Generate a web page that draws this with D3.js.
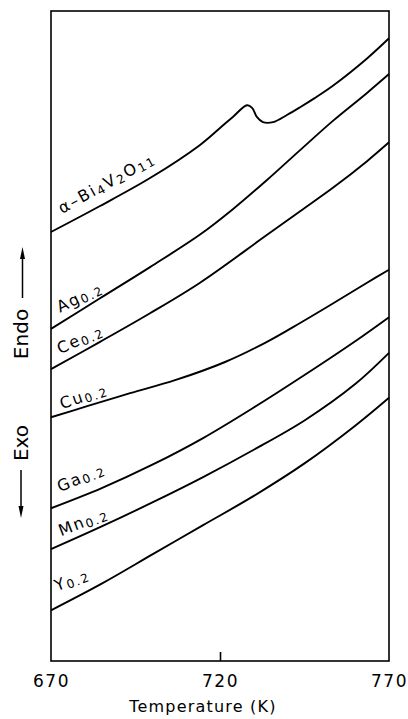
<!DOCTYPE html>
<html>
<head>
<meta charset="utf-8">
<script src="https://cdn.jsdelivr.net/npm/d3@7"></script>
<style>
  html, body { margin: 0; padding: 0; background: #fff; }
  svg { display: block; }
  text { font-family: "DejaVu Sans", sans-serif; fill: #000; }
</style>
</head>
<body>
<div id="chart"></div>
<script>
// ---------------- DATA ----------------
const xTickLabels = [670, 720, 770];
const xTitle = "Temperature (K)";
const yUpLabel = "Endo";
const yDownLabel = "Exo";

// Series: temperature (K) and DTA signal (arbitrary units, offset curves)
const biT = [670, 684.5, 699.3, 714.1, 720, 723.8, 728, 729.5, 730.9, 732.7, 735.7, 739.8, 743.7, 748, 753.4, 763.5, 770];
const biV = [66.0, 70.0, 74.3, 79.4, 82.0, 83.7, 85.5, 85.1, 83.7, 82.9, 82.9, 84.0, 85.2, 86.6, 88.5, 92.7, 95.8];

const agT = [670, 684.5, 699.3, 714.1, 723.8, 733.9, 743.7, 753.4, 763.5, 770];
const agV = [51.1, 55.8, 60.6, 65.6, 69.5, 74.0, 78.6, 83.1, 87.4, 90.3];

const ceT = [670, 684.5, 699.3, 714.1, 732.7, 743.7, 753.4, 763.5, 770];
const ceV = [44.9, 49.1, 53.5, 58.2, 65.1, 69.2, 72.8, 76.9, 79.8];

const cuT = [670, 680.7, 693.4, 706.7, 721.5, 733.9, 743.7, 753.4, 763.5, 770];
const cuV = [37.5, 39.2, 41.2, 43.2, 46.0, 49.1, 52.0, 55.0, 58.2, 60.2];

const gaT = [670, 685, 700, 715, 730, 745, 760, 770];
const gaV = [23.5, 26.6, 30.2, 34.3, 39.0, 44.0, 49.2, 52.9];

const mnT = [670, 685, 700, 715, 730, 745, 760, 770];
const mnV = [17.2, 20.7, 24.4, 28.3, 32.5, 37.0, 42.6, 47.4];

const yT = [670, 685, 700, 715, 730, 745, 760, 770];
const yV = [7.8, 11.9, 16.4, 20.9, 25.4, 30.4, 36.2, 40.5];

// label parts: [text, isSubscript]
const seriesLabels = [
  [["α–Bi", false], ["4", true], ["V", false], ["2", true], ["O", false], ["11", true]],
  [["Ag", false], ["0.2", true]],
  [["Ce", false], ["0.2", true]],
  [["Cu", false], ["0.2", true]],
  [["Ga", false], ["0.2", true]],
  [["Mn", false], ["0.2", true]],
  [["Y", false], ["0.2", true]]
];

const seriesT = [biT, agT, ceT, cuT, gaT, mnT, yT];
const seriesV = [biV, agV, ceV, cuV, gaV, mnV, yV];

// ---------------- LAYOUT ----------------
const W = 408, H = 719;
const frame = { left: 51, right: 389, top: 11, bottom: 661 };
// label placement: pixel offset from curve start, rotation angle
const labelLayout = [
  { dx: 11, dy: -18, angle: -29, size: 16, sub: 12, ls: 2.0 },
  { dx: 9,  dy: -16, angle: -26, size: 16, sub: 12, ls: 1.8 },
  { dx: 9,  dy: -15, angle: -24, size: 16, sub: 12, ls: 1.8 },
  { dx: 11, dy: -8,  angle: -19, size: 16, sub: 12, ls: 1.8 },
  { dx: 9,  dy: -16, angle: -23, size: 16, sub: 12, ls: 1.8 },
  { dx: 10, dy: -13, angle: -21, size: 16, sub: 12, ls: 1.8 },
  { dx: 6,  dy: -19, angle: -21, size: 16, sub: 12, ls: 1.8 }
];

const svg = d3.select("#chart").append("svg")
  .attr("width", W).attr("height", H);

const x = d3.scaleLinear().domain([670, 770]).range([frame.left, frame.right]);
const y = d3.scaleLinear().domain([0, 100]).range([frame.bottom, frame.top]);

// frame
svg.append("rect")
  .attr("x", frame.left).attr("y", frame.top)
  .attr("width", frame.right - frame.left)
  .attr("height", frame.bottom - frame.top)
  .attr("fill", "none").attr("stroke", "#000").attr("stroke-width", 1.6);

// bottom axis: inner tick at 720 only, labels below
const xAxis = d3.axisBottom(x)
  .tickValues(xTickLabels)
  .tickSize(0)
  .tickPadding(0)
  .tickFormat(d3.format("d"));
const gx = svg.append("g")
  .attr("transform", `translate(0,${frame.bottom})`)
  .call(xAxis);
gx.select(".domain").remove();
gx.selectAll("text")
  .attr("y", 26)
  .attr("dy", 0)
  .style("font-size", "17px")
  .style("letter-spacing", "1.6px")
  .style("font-family", "'DejaVu Sans', sans-serif");
gx.selectAll(".tick")
  .filter(d => d === 720)
  .append("line")
  .attr("y1", 0).attr("y2", -9)
  .attr("stroke", "#000").attr("stroke-width", 1.6);

// x title
svg.append("text")
  .attr("x", 203).attr("y", 712)
  .attr("text-anchor", "middle")
  .style("font-size", "16px")
  .style("letter-spacing", "1.2px")
  .text(xTitle);

// y labels with arrows
svg.append("text")
  .attr("transform", "translate(28,334) rotate(-90)")
  .attr("text-anchor", "middle")
  .style("font-size", "20px")
  .text(yUpLabel);
svg.append("text")
  .attr("transform", "translate(28,443) rotate(-90)")
  .attr("text-anchor", "middle")
  .style("font-size", "20px")
  .text(yDownLabel);

// up arrow
svg.append("line").attr("x1", 22.5).attr("x2", 22.5).attr("y1", 298).attr("y2", 256)
  .attr("stroke", "#000").attr("stroke-width", 1.5);
svg.append("path").attr("d", "M22.5,247 L20,259 L25,259 Z").attr("fill", "#000");
// down arrow
svg.append("line").attr("x1", 21).attr("x2", 21).attr("y1", 470).attr("y2", 510)
  .attr("stroke", "#000").attr("stroke-width", 1.5);
svg.append("path").attr("d", "M21,518 L18.5,506 L23.5,506 Z").attr("fill", "#000");

// curves
const line = d3.line()
  .x(d => x(d[0]))
  .y(d => y(d[1]))
  .curve(d3.curveCatmullRom.alpha(0.5));

seriesT.forEach((ts, i) => {
  const pts = ts.map((t, j) => [t, seriesV[i][j]]);
  svg.append("path")
    .datum(pts)
    .attr("d", line)
    .attr("fill", "none")
    .attr("stroke", "#000")
    .attr("stroke-width", 1.9)
    .attr("stroke-linejoin", "round");
});

// labels
seriesLabels.forEach((parts, i) => {
  const L = labelLayout[i];
  const px = x(seriesT[i][0]) + L.dx;
  const py = y(seriesV[i][0]) + L.dy;
  const t = svg.append("text")
    .attr("transform", `translate(${px},${py}) rotate(${L.angle})`)
    .style("font-size", L.size + "px")
    .style("letter-spacing", L.ls + "px");
  let prevSub = false;
  parts.forEach(([s, sub]) => {
    const ts = t.append("tspan").text(s);
    if (sub) {
      ts.style("font-size", L.sub + "px").attr("dy", prevSub ? 0 : 2);
    } else {
      ts.attr("dy", prevSub ? -2 : 0);
    }
    prevSub = sub;
  });
});
</script>
</body>
</html>
